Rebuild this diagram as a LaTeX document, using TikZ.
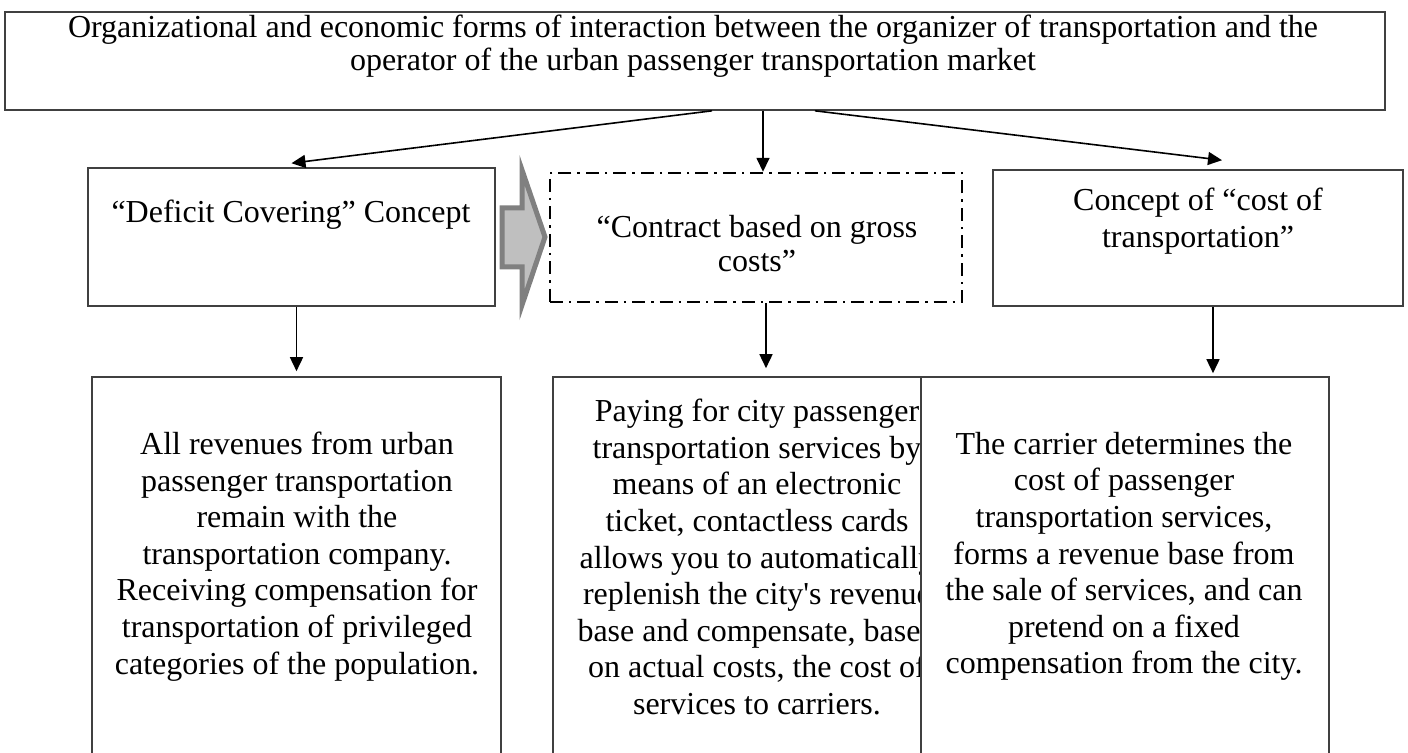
\documentclass[tikz,border=0pt]{standalone}
\usepackage{fontspec}
\setmainfont{Liberation Serif}
\usetikzlibrary{positioning, arrows.meta}

\tikzset{
    box/.style={draw=black!75, line width=0.8pt, fill=white, inner sep=0pt},
    dashbox/.style={draw=black, line width=1.2pt, inner sep=0pt,
        dash pattern=on 6.5pt off 3pt on 1.2pt off 3pt},
    txt/.style={align=center, inner sep=0pt, font=\fontsize{16}{18.3}\selectfont},
}

\begin{document}
\begin{tikzpicture}[x=0.5pt, y=-0.5pt, line width=0.8pt,
        >={Triangle[length=7pt, width=6.5pt]}]
        \useasboundingbox (0,0) rectangle (1408,753);

        % head of the scheme
        \node[box, minimum width=690pt, minimum height=49pt] (forms) at (695, 61) {};
        \node[txt, font=\fontsize{16}{16.5}\selectfont] (formstext) at (693, 46)
            {Organizational and economic forms of interaction between the organizer of transportation and the\\
             operator of the urban passenger transportation market};

        % the three concepts
        \node[box, minimum width=203.5pt, minimum height=69pt] (deficit) at (291.5, 237) {};
        \node[txt] (deficittext) at (291, 215) {``Deficit Covering'' Concept};

        \node[dashbox, minimum width=206pt, minimum height=64.5pt] (gross) at (756, 237.5) {};
        \node[txt, font=\fontsize{16}{17}\selectfont] (grosstext) at (757, 244) {``Contract based on gross\\costs''};

        \node[box, minimum width=205pt, minimum height=68pt] (cost) at (1198, 238) {};
        \node[txt] (costtext) at (1198, 221) {Concept of ``cost of\\transportation''};

        % transition arrow
        \draw[draw=gray, line width=2.5pt, fill=gray!50, line join=miter]
            (502,208) -- (522,208) -- (522,170) -- (545,237) -- (522,305)
            -- (522,267) -- (502,267) -- cycle;

        % descriptions
        \node[box, minimum width=204.5pt, minimum height=211.5pt] (revenue) at (296.5, 588.5) {};
        \node[txt] (revenuetext) at (297, 556.5)
            {All revenues from urban\\passenger transportation\\remain with the\\transportation company.\\
             Receiving compensation for\\transportation of privileged\\categories of the population.};

        \node[box, minimum width=213pt, minimum height=211.5pt] (payment) at (766, 588.5) {};
        \node[txt] (paymenttext) at (757, 557)
            {Paying for city passenger\\transportation services by\\means of an electronic\\
             ticket, contactless cards\\allows you to automatically\\replenish the city\textquotesingle s revenue\\
             base and compensate, based\\on actual costs, the cost of\\services to carriers.};

        \node[box, minimum width=204pt, minimum height=211.5pt] (carrier) at (1125, 588.5) {};
        \node[txt] (carriertext) at (1124, 556.5)
            {The carrier determines the\\cost of passenger\\transportation services,\\
             forms a revenue base from\\the sale of services, and can\\pretend on a fixed\\
             compensation from the city.};

        % connectors
        \draw[->] ([xshift=8.5pt]forms.south) -- ([yshift=2pt]deficit.north);
        \draw[->] ([xshift=34pt]forms.south) -- ([xshift=34pt]forms.south |- gross.north);
        \draw[->] ([xshift=60pt]forms.south) -- ([xshift=12pt, yshift=4.5pt]cost.north);

        \draw[->] (revenue.north |- deficit.south) -- ([yshift=2.5pt]revenue.north);
        \draw[->] (payment.north |- gross.south) -- ([yshift=4pt]payment.north);
        \draw[->] ([xshift=7.5pt]cost.south) -- ([xshift=7.5pt, yshift=1.5pt]cost.south |- carrier.north);
    \end{tikzpicture}
\end{document}
